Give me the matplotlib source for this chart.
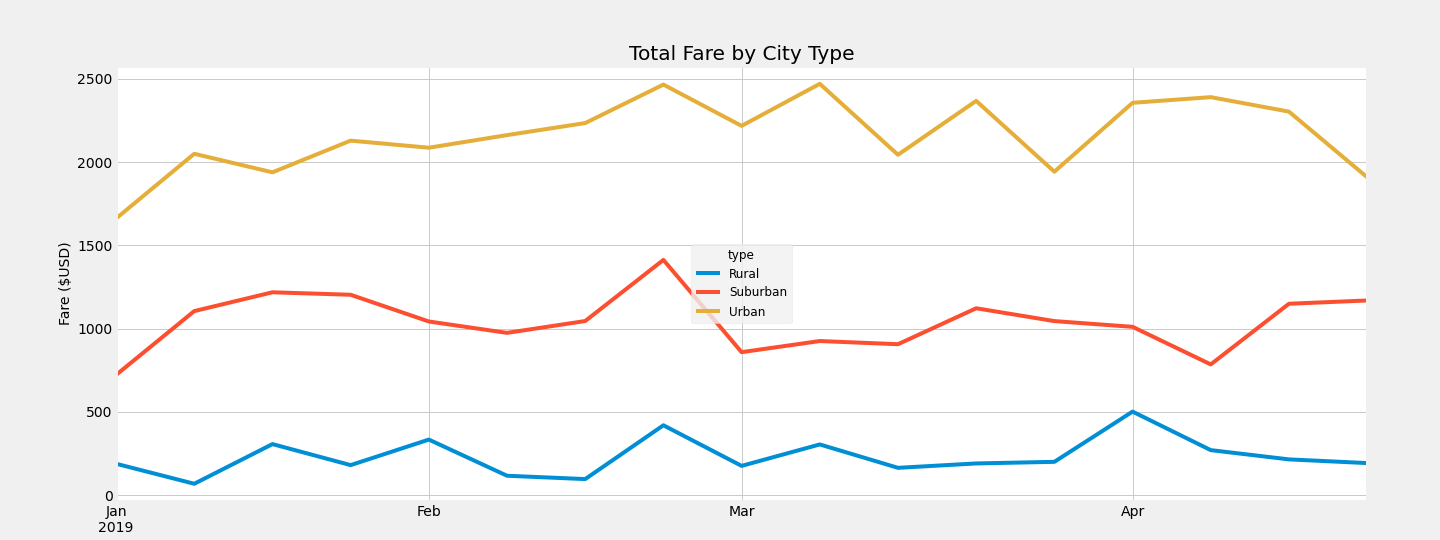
import pandas as pd
import matplotlib
matplotlib.use("Agg")
import matplotlib.pyplot as plt
import matplotlib.dates as mdates

# weekly fare totals (week ending Sunday)
weeks = pd.date_range("2019-01-06", "2019-04-28", freq="W")
rural = [187.92, 67.65, 306.00, 179.69, 333.08, 115.80, 95.82, 419.06, 175.14,
         303.94, 163.39, 189.76, 199.42, 501.24, 269.79, 214.14, 191.85]
suburban = [721.60, 1105.13, 1218.20, 1203.28, 1042.79, 974.34, 1045.50, 1412.74, 858.46,
            925.27, 906.20, 1122.20, 1045.06, 1010.73, 784.82, 1149.27, 1169.04]
urban = [1661.68, 2050.43, 1939.02, 2129.51, 2086.94, 2162.64, 2235.07, 2466.29, 2218.20,
         2470.93, 2044.42, 2368.37, 1942.77, 2356.70, 2390.72, 2303.80, 1909.51]
tick_dates = pd.to_datetime(["2019-01-06", "2019-02-03", "2019-03-03", "2019-04-07"])
tick_labels = ["Jan\n2019", "Feb", "Mar", "Apr"]

plt.style.use("fivethirtyeight")
fig = plt.figure(figsize=(20, 7.5), dpi=72)
ax = fig.add_axes([0.0806, 0.0722, 0.8688, 0.8056])
ax.set_facecolor("white")

ax.plot(weeks, rural, label="Rural")
ax.plot(weeks, suburban, label="Suburban")
ax.plot(weeks, urban, label="Urban")

ax.set_xlim(weeks[0], weeks[-1])
ax.set_ylim(-36, 2578)
ax.set_xticks(tick_dates)
ax.set_xticklabels(tick_labels)
ax.xaxis.set_minor_locator(mdates.DayLocator(interval=400))

ax.set_title("Total Fare by City Type")
ax.set_ylabel("Fare ($USD)", fontsize=14)
ax.set_xlabel("")
ax.legend(title="type", loc="center", fontsize=12, title_fontsize=12,
          facecolor="#f0f0f0", edgecolor="#e0e0e0", framealpha=0.8)

fig.savefig("out.png", dpi=72, facecolor=fig.get_facecolor())
